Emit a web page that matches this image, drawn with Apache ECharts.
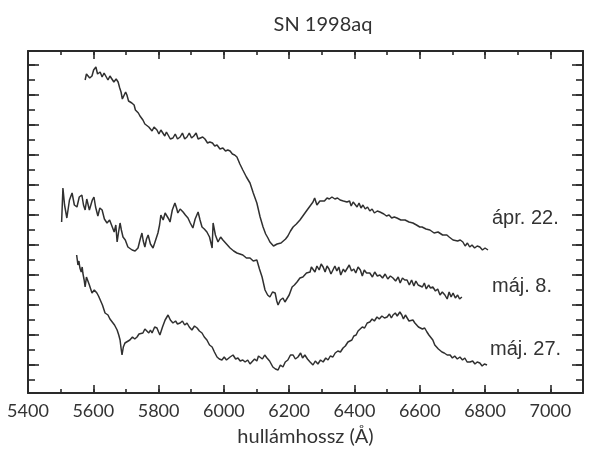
<!DOCTYPE html>
<html>
<head>
<meta charset="utf-8">
<script src="https://cdn.jsdelivr.net/npm/echarts@6/dist/echarts.min.js"></script>
<style>
html,body{margin:0;padding:0;background:#fff;}
#chart{width:589px;height:462px;}
</style>
</head>
<body>
<div id="chart"></div>
<script>
// wavelength (Å) ticks
const xTickLabels = ['5400','5600','5800','6000','6200','6400','6600','6800','7000'];
const seriesNames = ['ápr. 22.', 'máj. 8.', 'máj. 27.'];
const titleText = 'SN 1998aq';
const xName = 'hullámhossz (Å)';

// [wavelength Å, relative flux (arbitrary, offset) ]
const april22 = [[5575,285],[5579,291],[5584,293],[5589,287],[5596,289],[5601,295],[5608,298],[5613,291],[5621,293],[5627,288],[5633,292],[5639,290],[5645,285],[5651,289],[5657,288],[5663,283],[5670,286],[5676,283],[5681,277],[5685,273],[5689,266],[5694,268],[5699,273],[5703,270],[5708,264],[5712,265],[5718,262],[5725,260],[5729,255],[5734,257],[5738,252],[5743,249],[5747,250],[5752,245],[5758,241],[5764,243],[5770,238],[5774,238],[5780,234],[5786,238],[5795,235],[5801,231],[5807,235],[5813,233],[5819,229],[5824,233],[5829,231],[5836,226],[5844,227],[5851,231],[5858,226],[5866,228],[5873,232],[5880,226],[5887,228],[5894,232],[5901,227],[5908,229],[5915,232],[5921,226],[5927,227],[5935,228],[5942,226],[5950,222],[5957,223],[5965,222],[5972,219],[5979,220],[5988,216],[5997,217],[6005,214],[6012,215],[6019,214],[6026,211],[6033,210],[6040,208],[6049,201],[6058,195],[6069,188],[6080,182],[6090,172],[6101,162],[6111,148],[6120,138],[6128,131],[6135,127],[6141,123],[6147,121],[6152,119],[6157,118],[6163,121],[6169,120],[6175,122],[6181,123],[6189,126],[6196,129],[6204,134],[6212,138],[6222,141],[6233,145],[6244,150],[6255,155],[6264,159],[6273,163],[6278,167],[6282,165],[6285,160],[6288,158],[6294,164],[6300,165],[6308,164],[6316,167],[6323,166],[6331,168],[6340,166],[6348,167],[6356,165],[6366,164],[6377,163],[6385,164],[6390,159],[6396,163],[6402,162],[6408,158],[6414,162],[6420,157],[6426,160],[6433,156],[6440,158],[6447,154],[6454,156],[6461,152],[6470,154],[6478,153],[6490,151],[6498,149],[6506,150],[6514,147],[6522,148],[6530,147],[6542,145],[6555,145],[6567,143],[6579,142],[6590,140],[6600,138],[6607,138],[6619,136],[6631,135],[6644,132],[6656,133],[6670,130],[6683,130],[6690,128],[6696,129],[6702,125],[6708,126],[6716,124],[6724,125],[6732,123],[6739,119],[6746,122],[6753,118],[6760,120],[6768,117],[6776,119],[6784,118],[6792,115],[6800,117],[6809,115]];

const may8 = [[5503,143],[5507,177],[5512,160],[5519,147],[5527,165],[5535,172],[5542,160],[5550,158],[5557,168],[5565,170],[5570,160],[5575,155],[5580,166],[5584,164],[5588,155],[5593,153],[5597,165],[5602,168],[5607,158],[5614,149],[5620,157],[5627,155],[5634,146],[5642,142],[5650,145],[5657,139],[5664,133],[5669,140],[5673,123],[5677,132],[5682,142],[5686,135],[5691,128],[5698,125],[5706,118],[5712,116],[5719,115],[5728,114],[5737,117],[5743,125],[5749,132],[5753,124],[5758,118],[5763,126],[5768,130],[5775,121],[5783,117],[5790,124],[5798,132],[5803,140],[5807,150],[5811,148],[5814,145],[5820,152],[5826,150],[5831,146],[5835,143],[5842,155],[5850,162],[5855,157],[5859,152],[5866,156],[5875,153],[5882,150],[5890,147],[5897,142],[5905,137],[5912,146],[5921,153],[5927,145],[5933,138],[5940,136],[5948,133],[5956,128],[5964,117],[5967,142],[5974,130],[5982,123],[5990,128],[5997,125],[6008,121],[6019,117],[6030,114],[6040,112],[6049,111],[6058,110],[6069,107],[6080,107],[6090,104],[6101,105],[6109,96],[6117,88],[6126,75],[6134,70],[6141,68],[6149,73],[6157,72],[6162,64],[6166,60],[6173,65],[6181,67],[6187,63],[6193,62],[6200,70],[6209,78],[6216,80],[6224,83],[6233,87],[6242,88],[6253,92],[6264,93],[6268,98],[6273,97],[6279,93],[6285,99],[6292,95],[6298,101],[6304,98],[6310,93],[6316,99],[6322,96],[6328,91],[6334,93],[6340,99],[6346,94],[6352,98],[6358,90],[6366,96],[6371,93],[6377,95],[6384,100],[6391,94],[6398,96],[6404,92],[6411,98],[6418,95],[6424,89],[6430,95],[6437,92],[6447,92],[6455,88],[6462,93],[6470,89],[6478,90],[6486,87],[6494,91],[6502,86],[6510,89],[6518,87],[6526,84],[6534,88],[6540,82],[6547,87],[6554,85],[6561,85],[6568,80],[6575,85],[6582,79],[6588,84],[6595,80],[6601,82],[6608,78],[6614,82],[6620,76],[6627,80],[6633,77],[6640,78],[6648,74],[6655,76],[6662,70],[6669,73],[6677,70],[6684,66],[6690,73],[6696,68],[6702,72],[6709,67],[6716,70],[6722,66],[6729,68]];

const may27 = [[5549,110],[5553,100],[5556,104],[5559,97],[5563,93],[5566,98],[5568,92],[5572,85],[5575,78],[5579,88],[5584,88],[5588,80],[5592,76],[5596,72],[5603,75],[5611,72],[5616,69],[5621,67],[5628,60],[5636,52],[5645,50],[5651,46],[5657,45],[5665,40],[5673,35],[5678,30],[5682,25],[5685,17],[5688,10],[5692,18],[5697,22],[5703,24],[5712,25],[5720,28],[5727,26],[5734,28],[5740,31],[5746,30],[5752,32],[5758,36],[5764,38],[5770,32],[5775,35],[5780,32],[5788,38],[5795,37],[5800,33],[5804,30],[5812,38],[5820,45],[5825,44],[5829,50],[5836,45],[5844,42],[5852,44],[5858,41],[5866,42],[5873,44],[5880,40],[5887,42],[5894,38],[5902,35],[5910,39],[5918,37],[5925,34],[5933,32],[5940,28],[5948,25],[5956,20],[5964,18],[5971,13],[5979,8],[5986,6],[5994,5],[6001,8],[6008,5],[6019,8],[6028,10],[6036,6],[6043,7],[6050,4],[6058,5],[6065,3],[6073,5],[6080,1],[6086,2],[6094,6],[6101,4],[6106,9],[6111,10],[6118,6],[6125,10],[6132,7],[6140,4],[6150,-2],[6158,-4],[6166,-5],[6173,0],[6181,-2],[6188,3],[6196,5],[6204,10],[6212,10],[6219,6],[6227,8],[6235,12],[6241,7],[6248,10],[6256,6],[6264,3],[6270,5],[6273,0],[6280,4],[6288,1],[6296,5],[6304,3],[6312,7],[6319,5],[6326,9],[6334,8],[6341,12],[6349,14],[6357,13],[6365,17],[6372,19],[6380,23],[6386,21],[6392,25],[6398,29],[6405,30],[6411,34],[6417,35],[6424,38],[6431,37],[6439,42],[6447,43],[6454,46],[6461,44],[6469,48],[6476,46],[6484,49],[6492,47],[6500,48],[6507,51],[6513,47],[6518,50],[6525,52],[6531,49],[6539,53],[6545,50],[6550,46],[6556,50],[6561,48],[6567,44],[6573,46],[6579,45],[6585,42],[6591,43],[6596,38],[6601,38],[6608,36],[6615,37],[6622,33],[6628,30],[6634,28],[6640,25],[6646,20],[6652,21],[6657,16],[6662,17],[6668,13],[6675,12],[6684,10],[6693,10],[6700,7],[6707,9],[6715,6],[6723,8],[6731,5],[6738,7],[6745,3],[6754,3],[6762,4],[6769,1],[6776,3],[6784,2],[6791,-1],[6798,1],[6806,0]];

const X_MIN = 5400, X_MAX = 7100;
const Y_MIN = -28, Y_MAX = 314;
const INK = '#2a2a2a';
const TXT = '#333333';

const chart = echarts.init(document.getElementById('chart'), null, {renderer: 'canvas'});

function xAxisDef(pos, interval, len, showLine, showLabel) {
  return {
    type: 'value', position: pos, min: X_MIN, max: X_MAX, interval: interval,
    axisLine: {show: showLine, onZero: false, lineStyle: {color: INK, width: 2}},
    axisTick: {show: true, inside: true, length: len, lineStyle: {color: INK, width: 1.6}},
    axisLabel: showLabel ? {
      show: true, color: TXT, fontFamily: 'Lato', fontSize: 18, margin: 9,
      formatter: v => { const s = String(v); return xTickLabels.indexOf(s) >= 0 ? s : ''; }
    } : {show: false},
    splitLine: {show: false},
    name: showLabel ? xName : '',
    nameLocation: 'middle', nameGap: 34,
    nameTextStyle: {color: TXT, fontFamily: 'Lato', fontSize: 20}
  };
}
function yAxisDef(pos, step, len, showLine) {
  return {
    type: 'value', position: pos, min: Y_MIN, max: Y_MAX,
    minInterval: step, maxInterval: step, splitNumber: Math.round((Y_MAX - Y_MIN) / step),
    axisLine: {show: showLine, onZero: false, lineStyle: {color: INK, width: 2}},
    axisTick: {show: true, inside: true, length: len, lineStyle: {color: INK, width: 1.6}},
    axisLabel: {show: false},
    splitLine: {show: false}
  };
}

const option = {
  animation: false,
  backgroundColor: '#ffffff',
  title: {
    text: titleText, left: 318, top: 10, textAlign: 'center',
    textStyle: {color: TXT, fontFamily: 'Lato', fontSize: 20, fontWeight: 'normal'}
  },
  grid: {left: 28, right: 6, top: 51, bottom: 69, containLabel: false},
  xAxis: [
    xAxisDef('bottom', 200, 8, true, true),
    xAxisDef('bottom', 100, 4, false, false),
    xAxisDef('top', 200, 8, true, false),
    xAxisDef('top', 100, 4, false, false)
  ],
  yAxis: [
    yAxisDef('left', 30, 11, true),
    yAxisDef('left', 15, 7, false),
    yAxisDef('right', 30, 11, true),
    yAxisDef('right', 15, 7, false)
  ],
  series: [april22, may8, may27].map((d, i) => ({
    name: seriesNames[i], type: 'line', data: d, xAxisIndex: 0, yAxisIndex: 0,
    showSymbol: false, symbol: 'none', smooth: false,
    lineStyle: {color: '#303030', width: 1.5}
  })),
  graphic: [
    {type: 'text', left: 492, top: 208, style: {text: seriesNames[0], fill: TXT, font: '20px "Liberation Sans"'}},
    {type: 'text', left: 492, top: 276, style: {text: seriesNames[1], fill: TXT, font: '20px "Liberation Sans"'}},
    {type: 'text', left: 490, top: 339, style: {text: seriesNames[2], fill: TXT, font: '20px "Liberation Sans"'}}
  ]
};
chart.setOption(option);
</script>
</body>
</html>
